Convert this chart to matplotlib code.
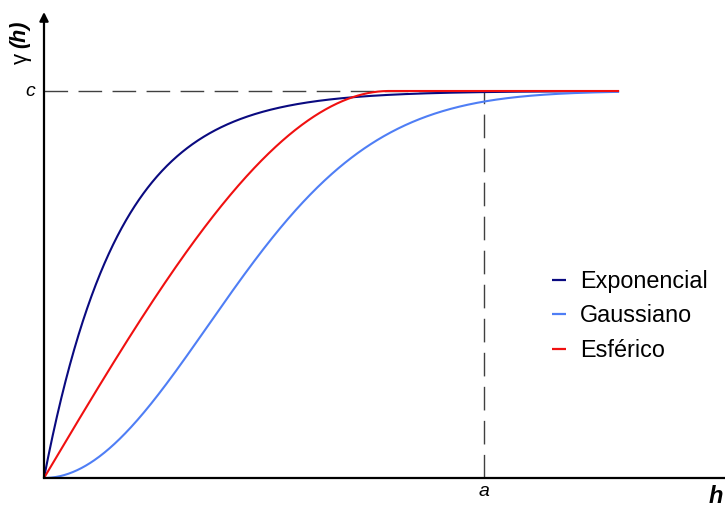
import numpy as np
import matplotlib
matplotlib.use("Agg")
import matplotlib.pyplot as plt

plt.rcParams["font.family"] = ["Liberation Sans", "DejaVu Sans"]

# Variogram model parameters (sill c, range mark a)
sill = 1.0
a_mark = 1.0
exp_scale = 0.17        # exponential model scale
gauss_scale = 0.527     # gaussian model scale
sph_range = 0.784       # spherical model range
h_max = 1.307

labels = ["Exponencial", "Gaussiano", "Esférico"]
colors = ["#0a0a80", "#4f7ef5", "#f01010"]

h = np.linspace(0, h_max, 800)
g_exp = sill * (1 - np.exp(-h / exp_scale))
g_gau = sill * (1 - np.exp(-(h / gauss_scale) ** 2))
r = np.clip(h / sph_range, 0, 1)
g_sph = sill * (1.5 * r - 0.5 * r ** 3)

W, H = 725, 505
fig = plt.figure(figsize=(W / 100, H / 100), dpi=100)
ax = fig.add_axes([0, 0, 1, 1])

# pixel -> data helpers for the frame
x0, y0, px_a, px_c = 44, 478, 440.0, 387.0
def hx(px):
    return (px - x0) / px_a * a_mark
def gy(py):
    return (y0 - py) / px_c * sill

ax.set_xlim(hx(0), hx(W))
ax.set_ylim(gy(H), gy(0))
ax.axis("off")

for g, lab, col in zip([g_exp, g_gau, g_sph], labels, colors):
    ax.plot(h, g, color=col, lw=1.5, label=lab, solid_capstyle="butt")

# reference dashed lines at sill and range
dash = (17, 7.5)
ax.plot([0, a_mark], [sill, sill], color="#404040", lw=1.0, dashes=dash, zorder=1)
ax.plot([a_mark, a_mark], [0, sill], color="#404040", lw=1.0, dashes=dash, zorder=1)

# axes
ax.plot([0, hx(W + 5)], [0, 0], color="black", lw=1.6, clip_on=False, zorder=5)
ax.annotate("", xy=(0, gy(12)), xytext=(0, 0),
            arrowprops=dict(arrowstyle="-|>", lw=1.6, color="black",
                            mutation_scale=13, shrinkA=0, shrinkB=0), zorder=5)

# labels
ax.text(hx(30), sill, "c", style="italic", fontsize=14, ha="center", va="center")
ax.text(a_mark, gy(483), "a", style="italic", fontsize=14, ha="center", va="top")
ax.text(hx(716), gy(485), "h", style="italic", weight="bold", fontsize=17,
        ha="center", va="top", clip_on=False)
ax.text(hx(21), gy(58), "γ", fontsize=16, rotation=90, ha="center", va="center")
ax.text(hx(20), gy(34), "(h)", style="italic", weight="bold", fontsize=15.5,
        rotation=90, ha="center", va="center")

leg = ax.legend(loc="center left", bbox_to_anchor=(552 / W, 1 - 316 / H),
                bbox_transform=fig.transFigure, frameon=False, fontsize=16.8,
                handlelength=0.6, handletextpad=0.6, labelspacing=0.5,
                borderpad=0, borderaxespad=0)
for ln in leg.get_lines():
    ln.set_linewidth(1.6)

fig.savefig("out.png", dpi=100, facecolor="white")
